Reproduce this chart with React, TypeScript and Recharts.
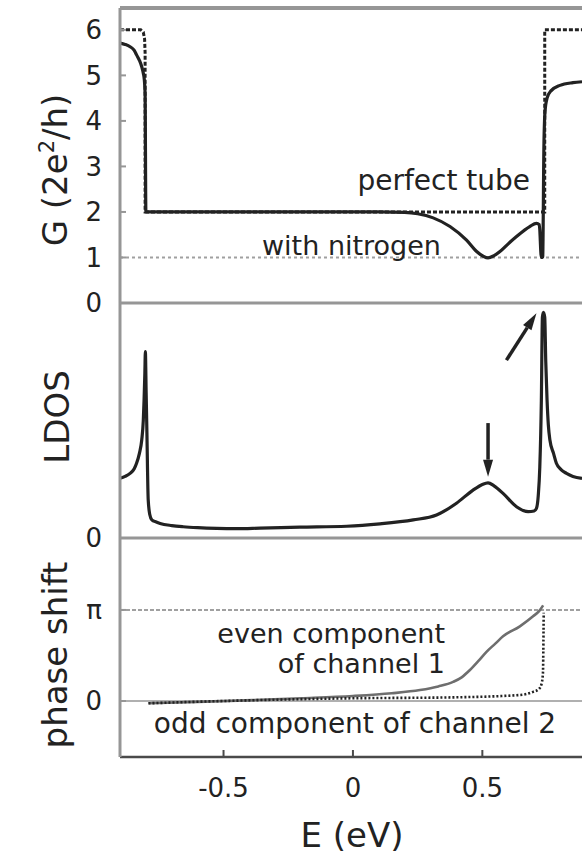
import React from 'react';
import { LineChart, Line, XAxis, YAxis, ReferenceLine } from 'recharts';

const W = 582;
const H = 857;
const AXIS_W = 120;
const FONT = '"DejaVu Sans", Verdana, sans-serif';
const INK = '#222222';
const FRAME = '#969696';
const GUIDE = '#a0a0a0';

// shared energy axis (eV)
const eDomain = [-0.9, 0.885];
const eTicks = [-0.5, 0, 0.5];

// conductance G in units of 2e^2/h
const gDomain = [0, 6.48];
const gTicks = [0, 1, 2, 3, 4, 5, 6];
const perfectE = [-0.9, -0.82, -0.81, -0.805, -0.803, -0.803, 0.741, 0.741, 0.885];
const perfectG = [6, 6, 5.95, 5.8, 5.5, 2, 2, 6, 6];
const nitrogenE = [
  -0.9, -0.88, -0.861, -0.845, -0.836, -0.825, -0.816, -0.81, -0.806, -0.803,
  -0.8, -0.4, 0.1, 0.2, 0.25, 0.31, 0.375, 0.439, 0.478, 0.505, 0.522, 0.545,
  0.568, 0.6, 0.632, 0.683, 0.709, 0.72, 0.728, 0.733, 0.738, 0.742, 0.75,
  0.765, 0.8, 0.85, 0.885,
];
const nitrogenG = [
  5.71, 5.68, 5.63, 5.55, 5.45, 5.33, 5.19, 5.05, 4.9, 4.6,
  2, 2, 2, 1.99, 1.96, 1.87, 1.68, 1.38, 1.13, 1.02, 0.99, 1.04,
  1.13, 1.3, 1.46, 1.68, 1.75, 1.72, 1.0, 1.0, 3.5, 4.2, 4.5,
  4.66, 4.78, 4.84, 4.86,
];

// local density of states (arb. units)
const ldosDomain = [0, 10];
const ldosE = [
  -0.9, -0.88, -0.861, -0.845, -0.836, -0.825, -0.816, -0.81, -0.807, -0.804, -0.802,
  -0.799, -0.796, -0.791, -0.785, -0.777, -0.76, -0.745,
  -0.7, -0.656, -0.6, -0.526, -0.45, -0.359, -0.205, -0.024,
  0.104, 0.233, 0.323, 0.4, 0.464, 0.5, 0.522, 0.545, 0.58, 0.632, 0.677, 0.7, 0.709, 0.716, 0.722, 0.728,
  0.732, 0.736, 0.741, 0.745, 0.75, 0.755, 0.761, 0.775, 0.786, 0.805, 0.825, 0.85, 0.885,
];
const ldosV = [
  2.54, 2.62, 2.75, 2.95, 3.18, 3.6, 4.17, 5.0, 5.87, 7.0, 7.93,
  6.2, 4.47, 1.62, 1.0, 0.77, 0.68, 0.62,
  0.53, 0.48, 0.44, 0.41, 0.4, 0.42, 0.46, 0.5,
  0.6, 0.77, 0.98, 1.48, 2.04, 2.28, 2.35, 2.22, 1.9, 1.33, 1.12, 1.15, 1.26, 1.8, 3.03, 5.87,
  9.4, 9.6, 9.4, 7.5, 5.87, 4.8, 4.17, 3.6, 3.18, 2.9, 2.75, 2.62, 2.54,
];

// phase shift in units of pi
const phaseDomain = [-0.615, 1.79];
const phaseTicks = [0, 1];
const evenE = [-0.79, -0.6, -0.385, -0.2, 0, 0.15, 0.259, 0.33, 0.387, 0.42, 0.452, 0.485, 0.516, 0.55, 0.58, 0.645, 0.696, 0.72, 0.735];
const evenV = [-0.025, -0.01, 0.01, 0.03, 0.055, 0.085, 0.12, 0.16, 0.21, 0.26, 0.34, 0.44, 0.54, 0.63, 0.71, 0.82, 0.93, 0.99, 1.05];
const oddE = [-0.79, -0.5, 0, 0.387, 0.645, 0.696, 0.718, 0.728, 0.734, 0.737];
const oddV = [-0.025, 0, 0.03, 0.04, 0.066, 0.1, 0.13, 0.18, 0.3, 0.97];

const zip = (xs: number[], ys: number[]) => xs.map((E, i) => ({ E, v: ys[i] }));

// pixel rows of the three stacked panels
const PANEL_G = { top: 8, bottom: 303 };
const PANEL_LDOS = { top: 303, bottom: 538 };
const PANEL_PHASE = { top: 538, bottom: 757 };
const X_AXIS_H = 40;

const tickStyle = { fill: INK, fontSize: 26, fontFamily: FONT };

const Arrow = (props: any) => {
  const { x1, y1, x2, y2 } = props;
  const a = Math.atan2(y2 - y1, x2 - x1);
  const len = 17;
  const half = 5;
  const bx = x2 - len * Math.cos(a);
  const by = y2 - len * Math.sin(a);
  const px = -Math.sin(a) * half;
  const py = Math.cos(a) * half;
  return (
    <g>
      <line x1={x1} y1={y1} x2={bx} y2={by} stroke={INK} strokeWidth={3.5} />
      <polygon points={`${x2},${y2} ${bx + px},${by + py} ${bx - px},${by - py}`} fill={INK} />
    </g>
  );
};

const leftAxis = (domain: number[], ticks: number[], fmt?: (v: number) => string) => (
  <YAxis
    type="number"
    domain={domain}
    ticks={ticks}
    allowDataOverflow
    width={AXIS_W}
    axisLine={{ stroke: FRAME, strokeWidth: 3 }}
    tickLine={{ stroke: FRAME, strokeWidth: 2 }}
    tickSize={-6}
    tickMargin={24}
    tick={tickStyle}
    tickFormatter={fmt}
    interval={0}
  />
);

const layer: React.CSSProperties = { position: 'absolute', left: 0, top: 0 };

export default function App() {
  return (
    <div style={{ position: 'absolute', left: 0, top: 0, width: W, height: H, background: '#fff', overflow: 'hidden' }}>
      {/* conductance */}
      <div style={layer}>
        <LineChart width={W} height={H} margin={{ top: PANEL_G.top, right: 0, bottom: H - PANEL_G.bottom, left: 0 }}>
          <XAxis
            type="number"
            dataKey="E"
            domain={eDomain}
            ticks={eTicks}
            allowDataOverflow
            orientation="top"
            mirror
            axisLine={{ stroke: FRAME, strokeWidth: 4 }}
            tickLine={{ stroke: FRAME, strokeWidth: 2 }}
            tickSize={7}
            tick={false}
          />
          {leftAxis(gDomain, gTicks)}
          <YAxis
            yAxisId="r"
            orientation="right"
            mirror
            type="number"
            domain={gDomain}
            ticks={gTicks}
            axisLine={false}
            tickLine={{ stroke: FRAME, strokeWidth: 2 }}
            tickSize={6}
            tick={false}
          />
          <ReferenceLine y={1} stroke={GUIDE} strokeWidth={2} strokeDasharray="3 3" />
          <ReferenceLine y={0} stroke={FRAME} strokeWidth={3} />
          <Line data={zip(perfectE, perfectG)} dataKey="v" type="linear" stroke={INK} strokeWidth={3} strokeDasharray="4 2" dot={false} isAnimationActive={false} />
          <Line data={zip(nitrogenE, nitrogenG)} dataKey="v" type="monotoneX" stroke={INK} strokeWidth={3.2} dot={false} isAnimationActive={false} />
        </LineChart>
      </div>

      {/* LDOS */}
      <div style={layer}>
        <LineChart width={W} height={H} margin={{ top: PANEL_LDOS.top, right: 0, bottom: H - PANEL_LDOS.bottom, left: 0 }}>
          <XAxis type="number" dataKey="E" domain={eDomain} allowDataOverflow hide />
          {leftAxis(ldosDomain, [0])}
          <ReferenceLine y={0} stroke={FRAME} strokeWidth={3} />
          <Line data={zip(ldosE, ldosV)} dataKey="v" type="monotoneX" stroke={INK} strokeWidth={3.2} dot={false} isAnimationActive={false} />
          <ReferenceLine segment={[{ x: 0.522, y: 4.89 }, { x: 0.522, y: 2.61 }]} shape={Arrow} ifOverflow="visible" />
          <ReferenceLine segment={[{ x: 0.593, y: 7.57 }, { x: 0.709, y: 9.56 }]} shape={Arrow} ifOverflow="visible" />
        </LineChart>
      </div>

      {/* phase shift */}
      <div style={layer}>
        <LineChart width={W} height={H} margin={{ top: PANEL_PHASE.top, right: 0, bottom: H - PANEL_PHASE.bottom - X_AXIS_H, left: 0 }}>
          <XAxis
            type="number"
            dataKey="E"
            domain={eDomain}
            ticks={eTicks}
            allowDataOverflow
            height={X_AXIS_H}
            axisLine={{ stroke: '#4a4a4a', strokeWidth: 2.5 }}
            tickLine={{ stroke: '#4a4a4a', strokeWidth: 2 }}
            tickSize={-7}
            tickMargin={29}
            tick={tickStyle}
            tickFormatter={(v: number) => String(v)}
            interval={0}
          />
          {leftAxis(phaseDomain, phaseTicks, (v: number) => (v === 1 ? 'π' : '0'))}
          <ReferenceLine y={1} stroke={GUIDE} strokeWidth={2} strokeDasharray="4 2" />
          <ReferenceLine y={0} stroke={FRAME} strokeWidth={1.5} />
          <Line data={zip(evenE, evenV)} dataKey="v" type="monotoneX" stroke="#6e6e6e" strokeWidth={2.6} dot={false} isAnimationActive={false} />
          <Line data={zip(oddE, oddV)} dataKey="v" type="monotoneX" stroke={INK} strokeWidth={2.6} strokeDasharray="2 2" dot={false} isAnimationActive={false} />
        </LineChart>
      </div>

      {/* titles and annotations */}
      <svg width={W} height={H} style={{ ...layer, pointerEvents: 'none' }} fontFamily={FONT} fill={INK}>
        <text transform="translate(67,170) rotate(-90)" textAnchor="middle" fontSize={34}>
          G (2e<tspan dy={-13} fontSize={21}>2</tspan>
          <tspan dy={13}>/h)</tspan>
        </text>
        <text transform="translate(69,417) rotate(-90)" textAnchor="middle" fontSize={34}>LDOS</text>
        <text transform="translate(67,655) rotate(-90)" textAnchor="middle" fontSize={34}>phase shift</text>
        <text x={352} y={847} textAnchor="middle" fontSize={34}>E (eV)</text>

        <text x={530} y={190} textAnchor="end" fontSize={28}>perfect tube</text>
        <text x={441} y={255} textAnchor="end" fontSize={27}>with nitrogen</text>
        <text x={445} y={643} textAnchor="end" fontSize={27}>even component</text>
        <text x={445} y={673} textAnchor="end" fontSize={27}>of channel 1</text>
        <text x={355} y={733} textAnchor="middle" fontSize={28}>odd component of channel 2</text>
      </svg>
    </div>
  );
}
